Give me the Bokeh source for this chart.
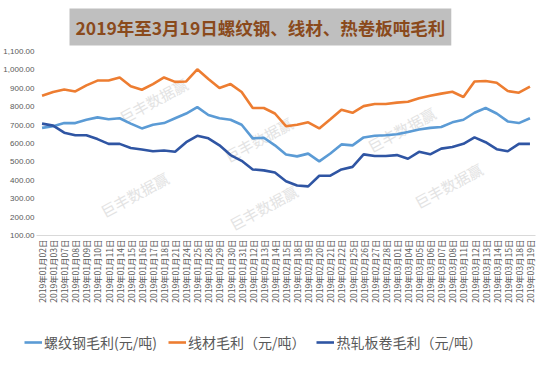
from bokeh.plotting import figure
from bokeh.models import FactorRange, NumeralTickFormatter, FixedTicker, Legend, LegendItem, Label
from bokeh.layouts import column, row
from bokeh.embed import file_html
from bokeh.resources import INLINE
import math

dates = [
    "2019年01月02日", "2019年01月03日", "2019年01月07日", "2019年01月08日", "2019年01月09日",
    "2019年01月10日", "2019年01月11日", "2019年01月14日", "2019年01月15日", "2019年01月16日",
    "2019年01月17日", "2019年01月18日", "2019年01月21日", "2019年01月24日", "2019年01月25日",
    "2019年01月28日", "2019年01月29日", "2019年01月30日", "2019年01月31日", "2019年02月12日",
    "2019年02月13日", "2019年02月14日", "2019年02月15日", "2019年02月18日", "2019年02月19日",
    "2019年02月20日", "2019年02月21日", "2019年02月22日", "2019年02月25日", "2019年02月26日",
    "2019年02月27日", "2019年02月28日", "2019年03月01日", "2019年03月04日", "2019年03月05日",
    "2019年03月06日", "2019年03月07日", "2019年03月08日", "2019年03月11日", "2019年03月12日",
    "2019年03月13日", "2019年03月14日", "2019年03月15日", "2019年03月18日", "2019年03月19日",
]

rebar = [685, 694, 711, 711, 729, 742, 732, 737, 708, 682,
         702, 711, 737, 763, 798, 755, 737, 729, 702, 628,
         631, 590, 540, 530, 545, 503, 546, 595, 590, 633,
         642, 645, 650, 662, 676, 685, 690, 715, 729, 767,
         793, 763, 720, 711, 737]

wire = [859, 880, 893, 883, 916, 942, 942, 959, 911, 892,
        923, 959, 935, 937, 1003, 951, 902, 923, 880, 793,
        793, 763, 694, 702, 715, 682, 732, 784, 767, 803,
        815, 815, 822, 827, 846, 859, 871, 881, 853, 937,
        940, 930, 885, 876, 909]

hot_rolled = [708, 697, 659, 645, 645, 624, 598, 598, 576, 567,
              558, 562, 555, 607, 642, 628, 590, 537, 506, 459,
              454, 442, 395, 372, 367, 425, 425, 459, 473, 541,
              532, 532, 537, 517, 555, 541, 572, 581, 598, 633,
              607, 569, 558, 598, 598]

y_ticks = [100, 200, 300, 400, 500, 600, 700, 800, 900, 1000, 1100]

series_names = ["螺纹钢毛利(元/吨)", "线材毛利（元/吨）", "热轧板卷毛利（元/吨）"]
series_colors = ["#5B9BD5", "#ED7D31", "#2F55A3"]
title_text = "2019年至3月19日螺纹钢、线材、热卷板吨毛利"
watermark_text = "巨丰数据赢"

CJK = "Noto Sans CJK SC"

p = figure(width=537, height=314, output_backend="svg", toolbar_location=None,
           x_range=FactorRange(factors=dates), y_range=(100, 1100),
           min_border_left=33, min_border_right=2, min_border_top=44, min_border_bottom=79)
p.x_range.range_padding = 0
p.outline_line_color = None
p.background_fill_color = "white"
p.border_fill_color = "white"
p.xgrid.grid_line_color = None
p.ygrid.grid_line_color = None

# title
p.title.text = title_text
p.title.align = "left"
p.title.offset = 33
p.title.standoff = 12
p.title.text_font = CJK
p.title.text_font_size = "17.5px"
p.title.text_font_style = "bold"
p.title.text_color = "#8A4A1C"
p.title.background_fill_color = "#BFBFBF"
p.title.padding = 6

# watermarks (faint)
wm_pos = [(117, 135), (222, 96), (98, 41), (227, 28), (365, 106), (412, 50)]
for (sx, sy) in wm_pos:
    p.add_layout(Label(x=sx, y=sy, x_units="screen", y_units="screen", text=watermark_text,
                       angle=0.5, text_font=CJK, text_font_size="15px", text_color="#E3E3E3",
                       text_align="center", text_baseline="middle", level="underlay"))

for vals, col in zip([rebar, wire, hot_rolled], series_colors):
    p.line(x=dates, y=vals, line_color=col, line_width=2.6)

# axes
p.yaxis.ticker = FixedTicker(ticks=y_ticks)
p.yaxis.formatter = NumeralTickFormatter(format="0,0.00")
p.yaxis.axis_line_color = None
p.yaxis.major_tick_line_color = None
p.yaxis.minor_tick_line_color = None
p.yaxis.major_tick_out = 0
p.yaxis.major_tick_in = 0
p.yaxis.major_label_standoff = 2
p.yaxis.major_label_text_font = "Liberation Sans"
p.yaxis.major_label_text_font_size = "8px"
p.yaxis.major_label_text_color = "#595959"

p.xaxis.axis_line_color = "#D9D9D9"
p.xaxis.axis_line_width = 1
p.xaxis.major_tick_line_color = None
p.xaxis.minor_tick_line_color = None
p.xaxis.major_tick_out = 0
p.xaxis.major_tick_in = 0
p.xaxis.major_label_orientation = math.pi / 2
p.xaxis.major_label_standoff = 4
p.xaxis.major_label_text_font = CJK
p.xaxis.major_label_text_font_size = "8.5px"
p.xaxis.major_label_text_color = "#595959"

# legend strip (its sample lines lie outside the visible range)
lg = figure(width=537, height=38, output_backend="svg", toolbar_location=None,
            x_axis_type=None, y_axis_type=None, min_border=0,
            min_border_left=0, min_border_right=0, min_border_top=0, min_border_bottom=0,
            x_range=(0, 1), y_range=(0, 1))
lg.outline_line_color = None
lg.xgrid.grid_line_color = None
lg.ygrid.grid_line_color = None
items = []
for name, col in zip(series_names, series_colors):
    r = lg.line(x=[-10, -9], y=[-10, -9], line_color=col, line_width=2.6)
    items.append(LegendItem(label=name, renderers=[r]))
legend = Legend(items=items, orientation="horizontal", location=(24, 0),
                label_text_font=CJK, label_text_font_size="14px", label_text_color="#595959",
                glyph_width=18, glyph_height=18, label_height=18, label_standoff=2,
                spacing=11, padding=0, margin=0,
                background_fill_alpha=0, border_line_color=None)
lg.add_layout(legend, "center")

layout = column(p, row(lg), spacing=0)
open("out.html", "w").write(file_html(layout, INLINE))
